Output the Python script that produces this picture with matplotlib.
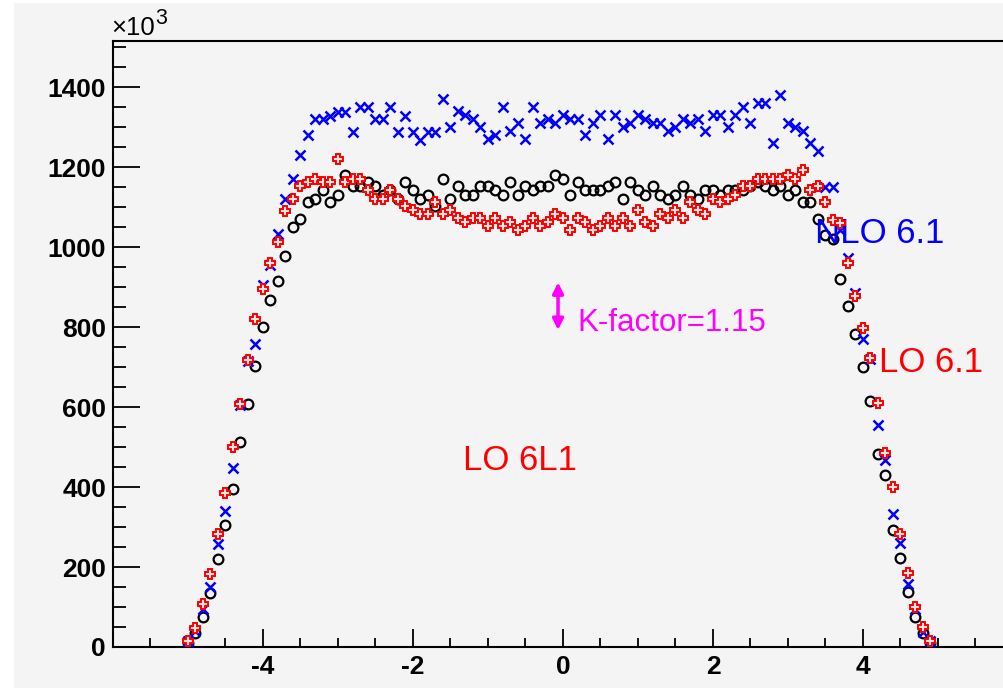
import numpy as np
import matplotlib
matplotlib.use("Agg")
import matplotlib.pyplot as plt
from matplotlib.patches import Rectangle

plt.rcParams['font.family'] = ['Liberation Sans', 'DejaVu Sans']
plt.rcParams['axes.unicode_minus'] = False

# bin positions (eta), 0.1 wide from -5.0 to 4.9
eta = np.round(np.arange(-50, 50) / 10.0, 1)

# LO 6L1 (black open circles), units of 10^3
lo_6l1 = [10, 34, 76, 136, 219, 306, 396, 512, 609, 703,
          800, 869, 916, 979, 1050, 1071, 1112, 1121, 1142, 1112,
          1131, 1181, 1152, 1152, 1162, 1152, 1131, 1142, 1121, 1162,
          1142, 1121, 1131, 1102, 1171, 1120, 1152, 1131, 1131, 1152,
          1152, 1142, 1131, 1162, 1131, 1152, 1142, 1152, 1152, 1181,
          1171, 1131, 1162, 1142, 1142, 1142, 1152, 1162, 1121, 1162,
          1142, 1131, 1152, 1131, 1121, 1131, 1152, 1131, 1121, 1142,
          1142, 1131, 1142, 1142, 1142, 1152, 1162, 1152, 1142, 1152,
          1131, 1142, 1112, 1112, 1071, 1031, 1020, 921, 853, 782,
          700, 615, 483, 430, 293, 222, 138, 74, 34, 10]

# LO 6.1 (red open crosses)
lo_61 = [15, 48, 108, 183, 283, 384, 500, 609, 718, 821,
         896, 960, 1012, 1091, 1121, 1152, 1162, 1171, 1162, 1162,
         1221, 1162, 1171, 1171, 1142, 1121, 1121, 1142, 1121, 1102,
         1092, 1083, 1083, 1112, 1083, 1093, 1073, 1062, 1073, 1073,
         1052, 1073, 1052, 1062, 1043, 1052, 1073, 1052, 1062, 1083,
         1073, 1043, 1073, 1062, 1043, 1052, 1073, 1052, 1073, 1052,
         1092, 1062, 1052, 1083, 1073, 1092, 1073, 1112, 1092, 1083,
         1121, 1112, 1121, 1131, 1152, 1152, 1171, 1171, 1171, 1171,
         1181, 1171, 1192, 1142, 1152, 1112, 1068, 1060, 960, 878,
         799, 724, 610, 486, 399, 282, 184, 101, 51, 16]

# NLO 6.1 (blue x)
nlo_61 = [15, 40, 95, 151, 257, 340, 447, 605, 716, 758,
          906, 956, 1033, 1121, 1171, 1231, 1281, 1321, 1321, 1329,
          1339, 1339, 1289, 1350, 1350, 1321, 1321, 1350, 1289, 1329,
          1289, 1268, 1289, 1289, 1370, 1300, 1341, 1331, 1321, 1300,
          1270, 1281, 1350, 1290, 1310, 1270, 1350, 1310, 1321, 1310,
          1331, 1321, 1321, 1281, 1310, 1331, 1270, 1331, 1300, 1310,
          1331, 1321, 1310, 1310, 1290, 1300, 1321, 1310, 1321, 1290,
          1331, 1331, 1300, 1331, 1350, 1310, 1360, 1360, 1260, 1381,
          1310, 1300, 1290, 1260, 1240, 1150, 1150, 1043, 974, 885,
          771, 721, 555, 468, 332, 261, 158, 94, 38, 16]

W, H = 1004, 688
fig = plt.figure(figsize=(W / 100, H / 100), dpi=100, facecolor='white')
fig.patches.append(Rectangle((14 / W, 0), 1, 1 - 3 / H, transform=fig.transFigure,
                             facecolor='#f4f4f4', edgecolor='none', zorder=-10))

ax = fig.add_axes([113 / W, 41 / H, 900 / W, 606.5 / H])
ax.set_facecolor('#f4f4f4')

ax.plot(eta, lo_6l1, 'o', ls='none', mfc='none', mec='black', ms=7, mew=1.6, zorder=3)
ax.plot(eta, nlo_61, 'x', ls='none', color='#0000ff', ms=7, mew=1.8, zorder=4)
ax.plot(eta, lo_61, 'P', ls='none', mfc='#ffe4e4', mec='#ff0000', ms=7.5, mew=1.4, zorder=5)

ax.set_xlim(-6, 6)
ax.set_ylim(0, 1517)
ax.set_xticks([-4, -2, 0, 2, 4])
ax.set_xticks(np.arange(-5.5, 6, 0.5), minor=True)
ax.set_yticks(np.arange(0, 1401, 200))
ax.set_yticks(np.arange(0, 1501, 50), minor=True)
for s in ax.spines.values():
    s.set_linewidth(1.5)

ax.tick_params(axis='x', which='major', direction='in', length=13, width=1.3,
               labelsize=19, pad=6, top=False)
ax.tick_params(axis='x', which='minor', direction='in', length=6.5, width=1.3, top=False)
ax.tick_params(axis='y', which='major', direction='in', length=19.5, width=1.3,
               labelsize=19, pad=5, right=False)
ax.tick_params(axis='y', which='minor', direction='in', length=9.5, width=1.3, right=False)
for lab in ax.get_xticklabels() + ax.get_yticklabels():
    lab.set_fontweight('bold')

# x10^3 multiplier
fig.text(111 / W, 1 - 35 / H, '\u00d710', fontsize=18.5, va='baseline', ha='left')
fig.text(155 / W, 1 - 24 / H, '3', fontsize=15.5, va='baseline', ha='left')

# labels
ax.text(3.356, 1010, 'NLO 6.1', color='#0000ff', fontsize=25, va='baseline')
ax.text(4.22, 689, 'LO 6.1', color='#ff0000', fontsize=25, va='baseline')
ax.text(-1.337, 443, 'LO 6L1', color='#ff0000', fontsize=25, va='baseline')
ax.text(0.19, 791, 'K-factor=1.15', color='#ff00ff', fontsize=22.5, va='baseline')
ax.annotate('', xy=(-0.066, 912), xytext=(-0.066, 793),
            arrowprops=dict(arrowstyle='<|-|>', color='#ff00ff', lw=2.5,
                            mutation_scale=16, shrinkA=0, shrinkB=0))

fig.savefig('out.png', dpi=100, facecolor=fig.get_facecolor())
